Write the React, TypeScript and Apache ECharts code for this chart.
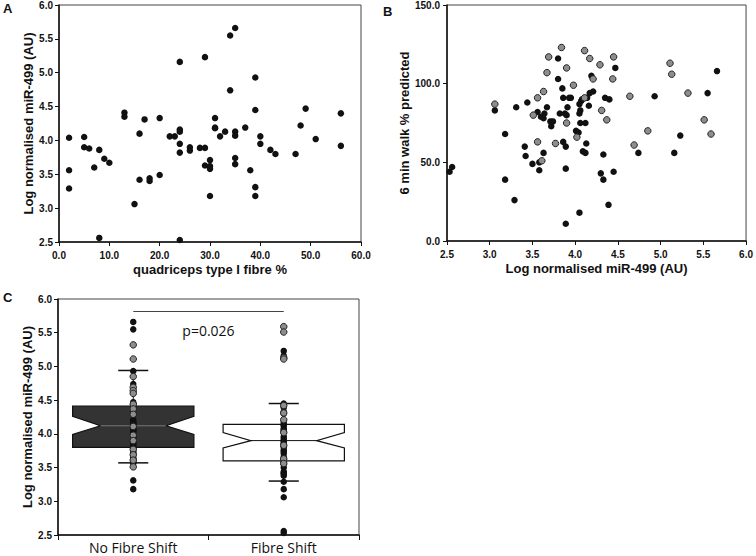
import React, { useEffect, useRef } from "react";
import * as echarts from "echarts";

// Panel A: quadriceps type I fibre % vs log normalised miR-499
const fibrePct = [2,2,2,5,5,6,7,8,9,10,8,13,13,15,16,16,17,18,18,20,20,22,23,24,24,24,24,24,24,26,26,28,29,29,29,30,30,30,30,31,31,31,32,33,34,34,35,35,35,35,35,37,38,39,39,39,39,40,40,42,43,47,48,49,51,56,56];
const mirA = [4.04,3.56,3.29,4.05,3.90,3.88,3.60,3.86,3.73,3.67,2.56,4.41,4.35,3.06,4.10,3.42,4.31,3.44,3.40,4.33,3.49,4.06,4.06,5.16,4.16,4.13,3.95,3.82,2.53,3.90,3.85,3.89,3.89,5.23,3.63,3.71,3.62,3.58,3.18,4.33,4.19,4.18,4.06,4.13,5.55,4.74,5.66,4.13,4.07,3.74,3.65,4.19,3.56,4.93,4.45,3.31,3.18,4.06,3.95,3.86,3.80,3.80,4.22,4.47,4.02,4.40,3.92];

// Panel B: log normalised miR-499 vs 6 min walk % predicted
const walkBlack = [[2.53,44],[2.56,47],[3.06,83],[3.18,68],[3.18,39],[3.29,26],[3.31,85],[3.41,60],[3.42,54],[3.44,88],[3.50,49],[3.56,82],[3.58,50],[3.58,45],[3.60,79],[3.63,78],[3.63,56],[3.64,81],[3.67,85],[3.71,76],[3.72,73],[3.74,76],[3.80,116],[3.80,103],[3.82,81],[3.85,97],[3.86,63],[3.86,91],[3.88,81],[3.89,46],[3.89,11],[3.89,60],[3.90,80],[3.91,85],[3.93,91],[3.95,91],[4.01,70],[4.04,69],[4.05,18],[4.05,87],[4.05,81],[4.06,83],[4.06,75],[4.07,89],[4.08,90],[4.09,57],[4.12,56],[4.12,75],[4.13,62],[4.14,91],[4.16,86],[4.17,94],[4.19,105],[4.21,95],[4.30,43],[4.33,55],[4.33,39],[4.35,91],[4.39,23],[4.40,90],[4.45,44],[4.47,110],[4.74,56],[4.93,92],[5.16,56],[5.23,67],[5.55,94],[5.66,108]];
const walkGray = [[3.06,87],[3.51,80],[3.56,91],[3.56,63],[3.61,51],[3.63,95],[3.67,107],[3.69,117],[3.77,62],[3.84,123],[3.90,75],[3.90,110],[3.98,99],[4.02,66],[4.11,121],[4.11,91],[4.17,116],[4.21,103],[4.29,112],[4.31,83],[4.37,77],[4.44,103],[4.45,117],[4.64,92],[4.69,61],[4.85,70],[5.11,113],[5.13,106],[5.32,94],[5.51,77],[5.59,68]];

// Panel C: groups
const groups = ["No Fibre Shift", "Fibre Shift"];
// [q1, notchLow, median, notchHigh, q3, whiskerLow, whiskerHigh]
const boxNoShift = [3.80, 3.99, 4.12, 4.26, 4.41, 3.57, 4.94];
const boxShift = [3.60, 3.79, 3.90, 4.02, 4.14, 3.30, 4.45];
const boxFill = ["#333333", "#ffffff"];
const boxMedianColor = ["#777777", "#111111"];
const c1Black = [5.66,5.55,4.93,4.74,4.47,4.45,4.43,4.40,4.36,4.34,4.30,4.28,4.21,4.19,4.17,4.16,4.14,4.12,4.10,4.09,4.07,4.06,4.05,4.04,4.01,3.97,3.95,3.93,3.91,3.89,3.88,3.86,3.84,3.82,3.80,3.78,3.74,3.72,3.71,3.67,3.64,3.63,3.60,3.58,3.56,3.31,3.18];
const c1Gray = [5.32,5.11,4.85,4.69,4.64,4.60,4.44,4.37,4.29,4.11,3.98,3.90,3.77,3.69,3.61,3.51];
const c2Black = [5.23,5.16,4.45,4.41,4.39,4.33,4.30,4.18,4.15,4.13,4.12,4.08,4.06,4.05,4.02,3.96,3.93,3.90,3.89,3.86,3.85,3.82,3.80,3.76,3.74,3.71,3.66,3.63,3.60,3.58,3.55,3.50,3.44,3.42,3.41,3.38,3.29,3.18,3.06,2.56,2.53];
const c2Gray = [5.59,5.51,5.13,5.11,4.42,4.31,4.21,4.02,3.83,3.63,3.56];
const sigY = 5.82;
const sigText = "p=0.026";

const boldFont = "'Liberation Sans', Arial, Helvetica, sans-serif";
const plainFont = "'Open Sans', 'Noto Sans', sans-serif";

const labelStyle = {
  fontFamily: boldFont,
  fontWeight: "bold" as const,
  fontSize: 10,
  color: "#111",
};
const nameStyle = {
  fontFamily: boldFont,
  fontWeight: "bold" as const,
  fontSize: 13,
  color: "#111",
};
const axisLine = { show: true, lineStyle: { color: "#111", width: 1.5 } };
const axisTick = { show: true, length: 4, lineStyle: { color: "#111", width: 1 } };
const fmt1 = (v: number) => v.toFixed(1);

function valueAxis(extra: any) {
  return {
    type: "value",
    axisLine,
    axisTick,
    splitLine: { show: false },
    nameLocation: "middle",
    nameTextStyle: nameStyle,
    ...extra,
    axisLabel: { ...labelStyle, formatter: fmt1, ...(extra.axisLabel || {}) },
  };
}

export default function App() {
  const ref = useRef<HTMLDivElement>(null);
  useEffect(() => {
    document.body.style.margin = "0";
    const chart = echarts.init(ref.current!, null, { renderer: "svg" });
    const blackDot = { color: "#111", opacity: 1 };
    const grayDot = { color: "#8d8d8d", borderColor: "#222", borderWidth: 1, opacity: 1 };
    const option: any = {
      animation: false,
      backgroundColor: "#fff",
      title: [
        { text: "A", left: 3, top: 2, padding: 0, textStyle: { ...nameStyle, fontSize: 13 } },
        { text: "B", left: 383, top: 5, padding: 0, textStyle: { ...nameStyle, fontSize: 13 } },
        { text: "C", left: 3, top: 291, padding: 0, textStyle: { ...nameStyle, fontSize: 13 } },
      ],
      grid: [
        { left: 59, top: 5, width: 302, height: 237, show: true, borderColor: "#444", borderWidth: 1 },
        { left: 447, top: 5, width: 301, height: 236, show: true, borderColor: "#444", borderWidth: 1 },
        { left: 58, top: 299, width: 301, height: 236, show: true, borderColor: "#444", borderWidth: 1 },
      ],
      xAxis: [
        valueAxis({ gridIndex: 0, min: 0, max: 60, interval: 10, name: "quadriceps type I fibre %", nameGap: 21, axisLabel: { margin: 8 } }),
        valueAxis({ gridIndex: 1, min: 2.5, max: 6, interval: 0.5, name: "Log normalised miR-499 (AU)", nameGap: 21, axisLabel: { margin: 8 } }),
        {
          type: "category",
          gridIndex: 2,
          data: groups,
          boundaryGap: true,
          axisLine,
          axisTick: { show: true, length: 5, alignWithLabel: false, lineStyle: { color: "#111" } },
          axisLabel: { fontFamily: plainFont, fontSize: 14, color: "#111", margin: 5 },
          splitLine: { show: false },
        },
      ],
      yAxis: [
        valueAxis({ gridIndex: 0, min: 2.5, max: 6, interval: 0.5, name: "Log normalised miR-499 (AU)", nameGap: 22, axisLabel: { margin: 6 } }),
        valueAxis({ gridIndex: 1, min: 0, max: 150, interval: 50, name: "6 min walk % predicted", nameGap: 30, axisLabel: { margin: 7 } }),
        valueAxis({ gridIndex: 2, min: 2.5, max: 6, interval: 0.5, name: "Log normalised miR-499 (AU)", nameGap: 22, axisLabel: { margin: 6 } }),
      ],
      series: [
        {
          type: "scatter",
          xAxisIndex: 0,
          yAxisIndex: 0,
          symbolSize: 6.5,
          itemStyle: blackDot,
          data: fibrePct.map((x, i) => [x, mirA[i]]),
        },
        {
          type: "scatter",
          xAxisIndex: 1,
          yAxisIndex: 1,
          symbolSize: 6.5,
          itemStyle: blackDot,
          data: walkBlack,
        },
        {
          type: "scatter",
          xAxisIndex: 1,
          yAxisIndex: 1,
          symbolSize: 6.5,
          itemStyle: grayDot,
          data: walkGray,
        },
        {
          type: "custom",
          xAxisIndex: 2,
          yAxisIndex: 2,
          z: 1,
          data: [
            [0, ...boxNoShift],
            [1, ...boxShift],
          ],
          encode: { x: 0, y: [1, 2, 3, 4, 5, 6, 7] },
          renderItem: (params: any, api: any) => {
            const idx = api.value(0);
            const band = api.size([1, 0])[0];
            const hw = band * 0.403;
            const nd = band * 0.185;
            const cap = band * 0.1;
            const py = (k: number) => api.coord([idx, api.value(k)])[1];
            const cx = api.coord([idx, api.value(3)])[0];
            const yQ1 = py(1), yNL = py(2), yMed = py(3), yNH = py(4), yQ3 = py(5), yWL = py(6), yWH = py(7);
            const stroke = "#111";
            return {
              type: "group",
              children: [
                { type: "line", shape: { x1: cx, y1: yQ3, x2: cx, y2: yWH }, style: { stroke, lineWidth: 1 } },
                { type: "line", shape: { x1: cx, y1: yQ1, x2: cx, y2: yWL }, style: { stroke, lineWidth: 1 } },
                { type: "line", shape: { x1: cx - cap, y1: yWH, x2: cx + cap, y2: yWH }, style: { stroke, lineWidth: 1.5 } },
                { type: "line", shape: { x1: cx - cap, y1: yWL, x2: cx + cap, y2: yWL }, style: { stroke, lineWidth: 1.5 } },
                {
                  type: "polygon",
                  shape: {
                    points: [
                      [cx - hw, yQ3], [cx + hw, yQ3], [cx + hw, yNH], [cx + hw - nd, yMed], [cx + hw, yNL],
                      [cx + hw, yQ1], [cx - hw, yQ1], [cx - hw, yNL], [cx - hw + nd, yMed], [cx - hw, yNH],
                    ],
                  },
                  style: { fill: boxFill[idx], stroke, lineWidth: 1.2 },
                },
                { type: "line", shape: { x1: cx - hw + nd, y1: yMed, x2: cx + hw - nd, y2: yMed }, style: { stroke: boxMedianColor[idx], lineWidth: 1 } },
              ],
            };
          },
        },
        {
          type: "scatter",
          xAxisIndex: 2,
          yAxisIndex: 2,
          z: 3,
          symbolSize: 6.5,
          itemStyle: blackDot,
          data: [...c1Black.map((v) => [0, v]), ...c2Black.map((v) => [1, v])],
          markLine: {
            silent: true,
            symbol: ["none", "none"],
            lineStyle: { color: "#444", width: 1, type: "solid" },
            label: {
              show: true,
              position: "insideMiddleBottom",
              formatter: sigText,
              fontFamily: plainFont,
              fontSize: 14,
              color: "#111",
              distance: 12,
            },
            data: [[{ coord: [groups[0], sigY] }, { coord: [groups[1], sigY] }]],
          },
        },
        {
          type: "scatter",
          xAxisIndex: 2,
          yAxisIndex: 2,
          z: 4,
          symbolSize: 6.5,
          itemStyle: grayDot,
          data: [...c1Gray.map((v) => [0, v]), ...c2Gray.map((v) => [1, v])],
        },
      ],
    };
    chart.setOption(option);
    return () => chart.dispose();
  }, []);
  return <div ref={ref} style={{ width: 756, height: 556, background: "#fff" }} />;
}
